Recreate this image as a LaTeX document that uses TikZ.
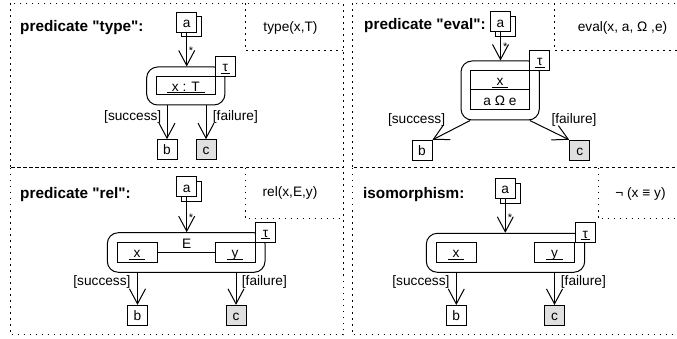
\documentclass[tikz,border=0pt]{standalone}
\usepackage{fontspec}
\setmainfont{Liberation Sans}
\usetikzlibrary{arrows.meta}

% underlined label with a rule wider than the text
\newsavebox\ulinebox
\newcommand\ulx[2][5pt]{\sbox\ulinebox{\kern#1#2\kern#1}\usebox\ulinebox\llap{\rule[-1.8pt]{\wd\ulinebox}{0.8pt}}}
\newcommand\diaglabel{\fontsize{13.7}{16}\selectfont}
\newcommand\diagtitle{\fontsize{15.3}{18}\selectfont\bfseries}

\begin{document}
\begin{tikzpicture}[x=1pt, y=-1pt,
  ln/.style={line width=1pt},
  ubox/.style={draw, line width=1pt, fill=white, minimum width=20pt, minimum height=20pt,
    inner sep=0pt, text height=11.5pt, text depth=1pt, font=\diaglabel},
  gbox/.style={ubox, fill=black!12},
  rbox/.style={draw, line width=1pt, rounded corners=11pt, inner sep=0pt},
  arr/.style={line width=1pt, -{Straight Barb[length=15pt,width=16pt]}},
  panel/.style={line width=1pt, dash pattern=on 1.5pt off 4.5pt},
  title/.style={font=\diagtitle, anchor=base west, inner sep=0pt},
  formula/.style={font=\diaglabel, anchor=base, inner sep=0pt},
  glabel/.style={font=\diaglabel, inner sep=0pt},
  mult/.style={font=\fontsize{11}{11}\selectfont, inner sep=0pt}
]
\useasboundingbox (0,0) rectangle (677,339);

% panel frames and formula boxes
\draw[panel] (10,3.3) rectangle (343,168);
\draw[panel] (352,3.3) rectangle (679,168);
\draw[panel] (10,168) rectangle (343,334.5);
\draw[panel] (352,168) rectangle (679,334.5);
\draw[panel] (245.5,3.3) |- (343,50.7);
\draw[panel] (554.7,3.3) |- (679,51);
\draw[panel] (245,168) |- (343,218.3);
\draw[panel] (598,168) |- (679,218.3);

% ---- predicate "type"
\node[title] (t1) at (20,31.7) {predicate \textquotedbl type\textquotedbl :};
\node[formula] (f1) at (290.5,31.7) {type(x,T)};
\node[ubox] (s1) at (191.7,26.8) {};
\node[ubox] (a1) at (186.7,22.3) {a};
\node[rbox, minimum width=78.3pt, minimum height=38pt] (r1) at (185.8,86) {};
\node[ubox, minimum width=58.3pt, minimum height=18pt] (i1) at (185.9,86) {\ulx{x : T}};
\node[ubox] (u1) at (r1.north east) {\ulx[2pt]{τ}};
\node[ubox] (b1) at (167,149.7) {b};
\node[gbox] (c1) at (206,149.7) {c};
\draw[arr] (a1.south) -- (a1.south |- r1.north);
\node[mult] (m1) at (190.9,51) {*};
\draw[arr] (b1.north |- r1.south) -- (b1.north);
\draw[arr] (c1.north |- r1.south) -- (c1.north);
\node[glabel, anchor=base east] (l1s) at (161.5,120.5) {[success]};
\node[glabel, anchor=base west] (l1f) at (212.7,120.5) {[failure]};

% ---- predicate "eval"
\node[title] (t2) at (364,29.5) {predicate \textquotedbl eval\textquotedbl :};
\node[formula] (f2) at (622.5,32) {eval(x, a, Ω ,e)};
\node[ubox] (s2) at (505.5,26.5) {};
\node[ubox] (a2) at (500.5,22) {a};
\node[rbox, minimum width=78.3pt, minimum height=59pt] (r2) at (500.15,90.5) {};
\node[ubox, minimum width=58.6pt, minimum height=19pt] (i2a) at (500,80.5) {\ulx{x}};
\node[ubox, minimum width=58.6pt, minimum height=20pt] (i2b) at (500,100) {a Ω e};
\node[ubox] (u2) at (r2.north east) {\ulx[2pt]{τ}};
\node[ubox] (b2) at (422,150.3) {b};
\node[gbox] (c2) at (579.7,150.3) {c};
\draw[arr] (a2.south) -- (a2.south |- r2.north);
\node[mult] (m2) at (505.2,46.7) {*};
\draw[arr] (i2b.west |- r2.south) -- (b2.north east);
\draw[arr] (i2b.east |- r2.south) -- (c2.north west);
\node[glabel, anchor=base east] (l2s) at (445.3,124) {[success]};
\node[glabel, anchor=base west] (l2f) at (551.3,124) {[failure]};

% ---- predicate "rel"
\node[title] (t3) at (20,198.3) {predicate \textquotedbl rel\textquotedbl :};
\node[formula] (f3) at (290,196.5) {rel(x,E,y)};
\node[ubox] (s3) at (191.7,191.5) {};
\node[ubox] (a3) at (186.7,187) {a};
\node[rbox, minimum width=157.7pt, minimum height=39.6pt] (r3) at (186.15,252.5) {};
\node[ubox, minimum width=40pt] (x3) at (137,252.3) {\ulx{x}};
\node[ubox, minimum width=40pt] (y3) at (235,252.3) {\ulx{y}};
\node[ubox] (u3) at (r3.north east) {\ulx[2pt]{τ}};
\draw[ln] (x3.east) -- (y3.west);
\node[glabel, anchor=base] (e3) at (186.7,248.3) {E};
\node[ubox] (b3) at (137.5,315.4) {b};
\node[gbox] (c3) at (236,315.4) {c};
\draw[arr] (a3.south) -- (a3.south |- r3.north);
\node[mult] (m3) at (190.9,217.5) {*};
\draw[arr] (b3.north |- r3.south) -- (b3.north);
\draw[arr] (c3.north |- r3.south) -- (c3.north);
\node[glabel, anchor=base east] (l3s) at (130.7,285.3) {[success]};
\node[glabel, anchor=base west] (l3f) at (241.7,285.3) {[failure]};

% ---- isomorphism
\node[title] (t4) at (363,198.3) {isomorphism:};
\node[formula] (f4) at (640.5,197.7) {¬ (x ≡ y)};
\node[ubox] (s4) at (510.3,193.2) {};
\node[ubox] (a4) at (505.3,188.7) {a};
\node[rbox, minimum width=158.4pt, minimum height=39pt] (r4) at (505.5,252.8) {};
\node[ubox, minimum width=40pt] (x4) at (456,252.5) {\ulx{x}};
\node[ubox, minimum width=40pt] (y4) at (554.5,252.5) {\ulx{y}};
\node[ubox] (u4) at (r4.north east) {\ulx[2pt]{τ}};
\node[ubox] (b4) at (456.3,315.5) {b};
\node[gbox] (c4) at (554.5,315.5) {c};
\draw[arr] (a4.south) -- (a4.south |- r4.north);
\node[mult] (m4) at (509.9,217.5) {*};
\draw[arr] (b4.north |- r4.south) -- (b4.north);
\draw[arr] (c4.north |- r4.south) -- (c4.north);
\node[glabel, anchor=base east] (l4s) at (449.7,285.3) {[success]};
\node[glabel, anchor=base west] (l4f) at (560.7,285.3) {[failure]};
\end{tikzpicture}
\end{document}
